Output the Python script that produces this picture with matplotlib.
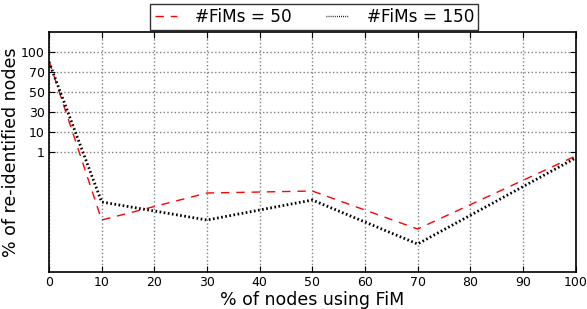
import matplotlib
matplotlib.use("Agg")
import matplotlib.pyplot as plt

# x: % of nodes using FiM
nodes_pct = [0, 10, 30, 50, 70, 100]

# y values are given in axis positions: the chart's y axis is a stretched
# scale where the labels 1, 10, 30, 50, 70, 100 sit at evenly spaced positions
ytick_pos = [5, 6, 7, 8, 9, 10]
ytick_labels = ["1", "10", "30", "50", "70", "100"]

fims_50 = [9.55, 1.6, 2.95, 3.05, 1.15, 4.8]
fims_150 = [9.5, 2.5, 1.6, 2.6, 0.4, 4.7]

fig = plt.figure(figsize=(5.87, 3.09), dpi=100)
ax = fig.add_axes([0.0835, 0.1197, 0.897, 0.7767])

ax.plot(nodes_pct, fims_50, color="red", linestyle="--", linewidth=1.0,
        dashes=(6, 5), label="#FiMs = 50")
ax.plot(nodes_pct, fims_150, color="black", linestyle=":", linewidth=2.0,
        dashes=(0.6, 0.9), label="#FiMs = 150")

ax.set_xlim(0, 100)
ax.set_ylim(-1, 11)
ax.set_xticks(range(0, 101, 10))
ax.set_yticks(ytick_pos)
ax.set_yticklabels(ytick_labels)
ax.tick_params(direction="in", top=True, right=True, labelsize=9, length=4, pad=3)

ax.grid(True, linestyle=":", color="gray", linewidth=1.0)
for s in ax.spines.values():
    s.set_linewidth(1.2)

ax.set_xlabel("% of nodes using FiM", fontsize=12.5, labelpad=1)
ax.set_ylabel("% of re-identified nodes", fontsize=12.5, labelpad=1)

leg = ax.legend(loc="lower center", bbox_to_anchor=(0.504, 1.0), ncol=2,
                fontsize=12.2, fancybox=False, borderaxespad=0.1,
                handlelength=1.3, columnspacing=2.0, borderpad=0.25,
                handletextpad=1.1)
leg.get_frame().set_edgecolor("black")
leg.get_frame().set_linewidth(1.0)
for h in leg.get_lines():
    h.set_linewidth(1.0)

fig.savefig("out.png", dpi=100)
